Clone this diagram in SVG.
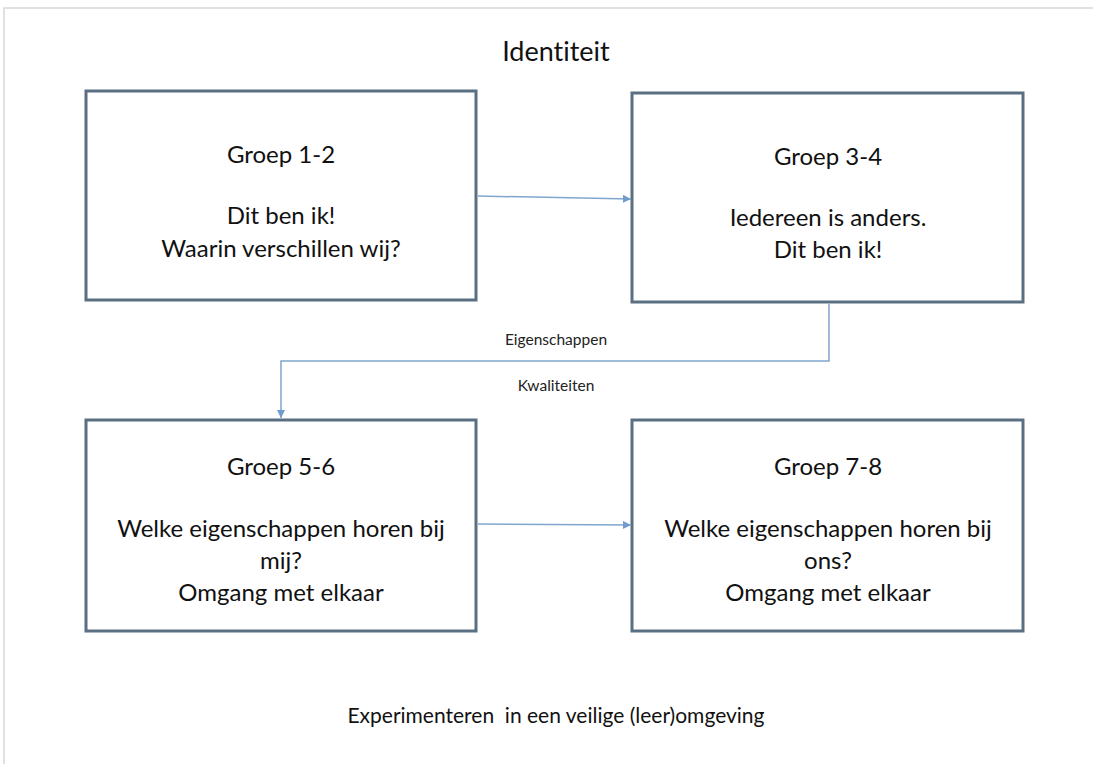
<svg xmlns="http://www.w3.org/2000/svg" width="1093" height="764" viewBox="0 0 1093 764">
<defs>
<style>
.box{fill:#fff;stroke:#5b6f82;stroke-width:3}
.t{font-family:Lato,"Liberation Sans",sans-serif;font-size:24px;fill:#111;text-anchor:middle;font-variant-ligatures:none}
.s{font-family:Lato,"Liberation Sans",sans-serif;font-size:15.5px;fill:#222;text-anchor:middle;font-variant-ligatures:none}
.c{fill:none;stroke:#7fa7cc;stroke-width:1.5}
</style>
<marker id="ah" viewBox="0 0 10 10" refX="10" refY="5" markerWidth="8" markerHeight="8" orient="auto" markerUnits="userSpaceOnUse">
<path d="M0,0 L10,5 L0,10 z" fill="#6f9ccc"/>
</marker>
</defs>
<rect width="1093" height="764" fill="#fff"/>
<path d="M4,764 V8 H1093" fill="none" stroke="#d8d8d8" stroke-width="1.5"/>
<text class="t" x="556" y="61" style="font-size:27px">Identiteit</text>
<g id="n1">
<rect class="box" x="86" y="91" width="390" height="209"/>
<text class="t" x="281" y="163">Groep 1-2</text>
<text class="t" x="281" y="224">Dit ben ik!</text>
<text class="t" x="281" y="257">Waarin verschillen wij?</text>
</g>
<g id="n2">
<rect class="box" x="632" y="93" width="391" height="209"/>
<text class="t" x="828" y="165">Groep 3-4</text>
<text class="t" x="828" y="226">Iedereen is anders.</text>
<text class="t" x="828" y="258">Dit ben ik!</text>
</g>
<g id="n3">
<rect class="box" x="86" y="420" width="390" height="211"/>
<text class="t" x="281" y="475">Groep 5-6</text>
<text class="t" x="281" y="537">Welke eigenschappen horen bij</text>
<text class="t" x="281" y="569">mij?</text>
<text class="t" x="281" y="601">Omgang met elkaar</text>
</g>
<g id="n4">
<rect class="box" x="632" y="420" width="391" height="211"/>
<text class="t" x="828" y="475">Groep 7-8</text>
<text class="t" x="828" y="537">Welke eigenschappen horen bij</text>
<text class="t" x="828" y="569">ons?</text>
<text class="t" x="828" y="601">Omgang met elkaar</text>
</g>
<g id="connectors">
<path class="c" d="M478,196 L631,199" marker-end="url(#ah)"/>
<path class="c" d="M478,524 L631,525" marker-end="url(#ah)"/>
<path class="c" d="M829,304 V361 H281 V418" marker-end="url(#ah)"/>
</g>
<text class="s" x="556" y="345">Eigenschappen</text>
<text class="s" x="556" y="391">Kwaliteiten</text>
<text class="t" x="556" y="723" style="font-size:21px" xml:space="preserve">Experimenteren  in een veilige (leer)omgeving</text>
</svg>
